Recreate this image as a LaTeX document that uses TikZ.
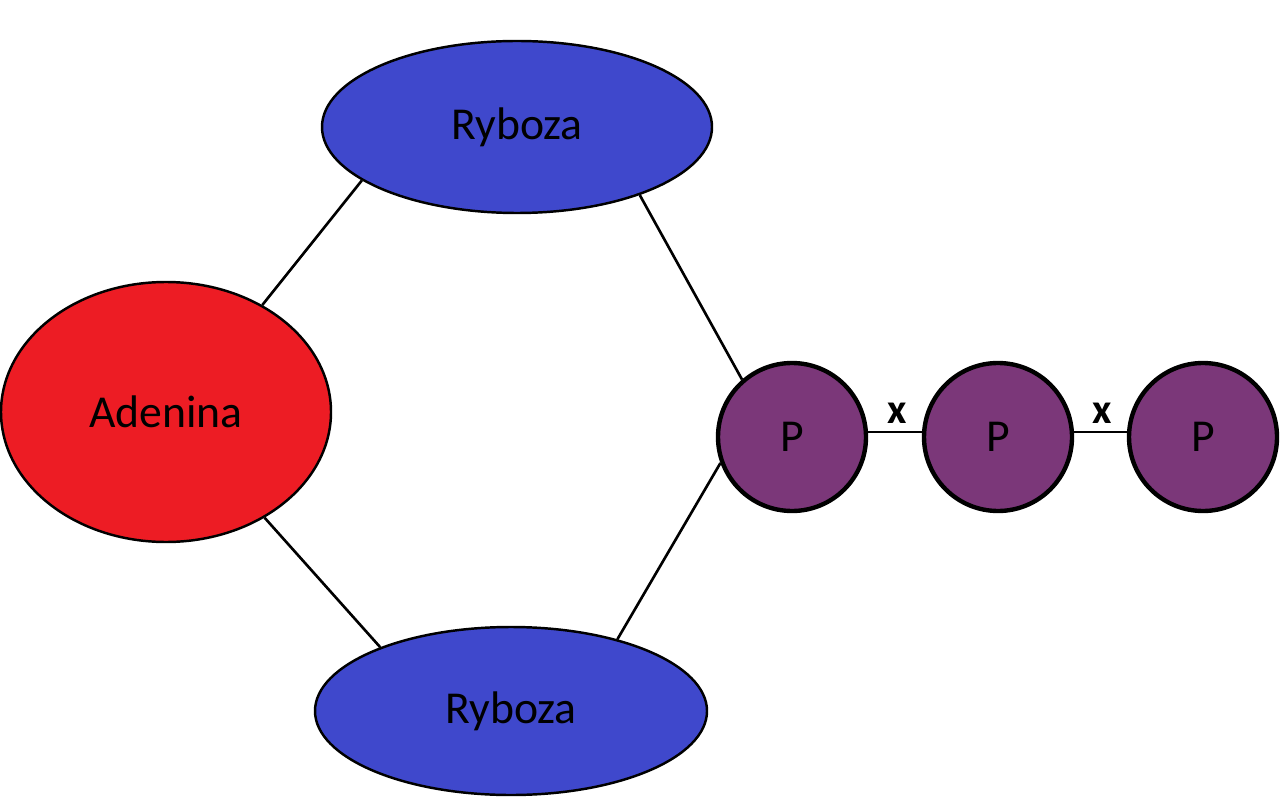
\documentclass[tikz,border=0pt]{standalone}
\usepackage{fontspec}
\setmainfont{Carlito}
\usetikzlibrary{shapes.geometric}
\definecolor{adered}{RGB}{237,28,36}
\definecolor{ryblue}{RGB}{63,72,204}
\definecolor{ppurple}{RGB}{123,55,121}
\newlength{\px}
\setlength{\px}{0.02cm}
\tikzset{
  ell/.style={ellipse, draw=black, line width=1.4pt, inner sep=0pt, font=\fontsize{26}{30}\selectfont},
  pcirc/.style={circle, draw=black, line width=2.5pt, fill=ppurple, inner sep=0pt, minimum size=148\px, font=\fontsize{26}{30}\selectfont},
  bond/.style={draw=black, line width=1.5pt},
  xlab/.style={font=\bfseries\fontsize{24}{28}\selectfont, inner sep=0pt}
}
\begin{document}
\begin{tikzpicture}[x=0.02cm, y=-0.02cm]
\useasboundingbox (0,0) rectangle (1280,800);
\node[ell, fill=adered, minimum width=330\px, minimum height=260\px] (ade) at (166,412) {Adenina};
\node[ell, fill=ryblue, minimum width=390\px, minimum height=172\px] (ryb1) at (517,127) {Ryboza};
\node[ell, fill=ryblue, minimum width=392\px, minimum height=168\px] (ryb2) at (511,711) {Ryboza};
\node[pcirc] (p1) at (792,437) {P};
\node[pcirc] (p2) at (998,437) {P};
\node[pcirc] (p3) at (1203,437) {P};
\draw[bond] (ade.48) -- (ryb1.199);
\draw[bond] (ade.-47) -- (ryb2.154);
\draw[bond] (ryb1.-29) -- (p1.131);
\draw[bond] (ryb2.34) -- (p1.200);
\draw[bond] (p1.east |- 0,432) coordinate (a1) -- (p2.west |- 0,432) coordinate (a2);
\draw[bond] (p2.east |- 0,432) coordinate (b1) -- (p3.west |- 0,432) coordinate (b2);
\node[xlab] (x1) at (897,413) {x};
\node[xlab] (x2) at (1102,413) {x};
\end{tikzpicture}
\end{document}
